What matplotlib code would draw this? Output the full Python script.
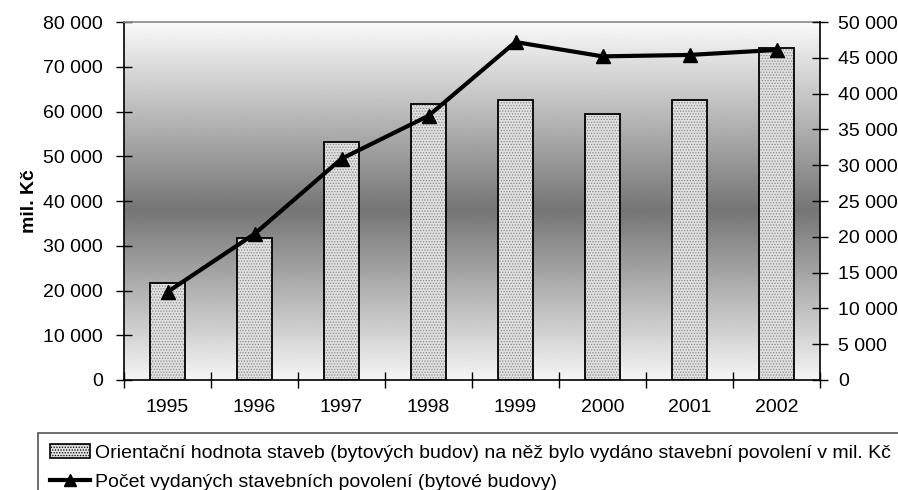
import numpy as np
import matplotlib
matplotlib.use('Agg')
import matplotlib.pyplot as plt
from matplotlib.patches import Rectangle
from matplotlib.lines import Line2D
from matplotlib.ticker import FuncFormatter, MultipleLocator

plt.rcParams['font.family'] = ['Liberation Sans', 'DejaVu Sans']
plt.rcParams['hatch.linewidth'] = 0.6

# Stavební povolení - bytové budovy
years = ['1995', '1996', '1997', '1998', '1999', '2000', '2001', '2002']
hodnota_mil_kc = [21600, 31700, 53200, 61700, 62600, 59500, 62600, 74300]
pocet_povoleni = [12300, 20400, 30900, 36900, 47200, 45200, 45400, 46100]

bar_label = ('Orientační hodnota staveb (bytových budov) na něž bylo vydáno '
             'stavební povolení v mil. Kč')
line_label = 'Počet vydaných stavebních povolení (bytové budovy)'

FS = 14
W, H = 898, 490


def thousands(v, pos):
    return f'{int(v):,}'.replace(',', ' ')


fig = plt.figure(figsize=(W / 100, H / 100), dpi=100)
ax = fig.add_axes([124 / W, 1 - 380 / H, (820 - 124) / W, (380 - 22) / H])

# grey vertical gradient behind the plot (light - dark - light)
stops_y = [0.0, 0.525, 1.0]
stops_v = [0.98, 0.46, 0.96]
yy = np.linspace(0, 1, 400)
grad = np.interp(yy, stops_y, stops_v)[:, None]
ax.imshow(grad, extent=[0, 1, 0, 1], transform=ax.transAxes, aspect='auto',
          cmap='gray', vmin=0, vmax=1, zorder=0, interpolation='bilinear')

x = np.arange(len(years))
bw = 0.4
ax.bar(x, hodnota_mil_kc, width=bw, color='#e0e0e0', edgecolor='#8a8a8a',
       linewidth=0, hatch='......', zorder=2)
ax.bar(x, hodnota_mil_kc, width=bw, fill=False, edgecolor='black',
       linewidth=1.3, zorder=3)

ax.set_xlim(-0.5, len(years) - 0.5)
ax.set_ylim(0, 80000)
ax.yaxis.set_major_locator(MultipleLocator(10000))
ax.yaxis.set_major_formatter(FuncFormatter(thousands))
ax.set_xticks(x)
ax.set_xticklabels(years)
ax.set_xticks(np.arange(-0.5, len(years)), minor=True)
ax.tick_params(axis='x', which='major', length=0, pad=14, labelsize=FS)
ax.tick_params(axis='x', which='minor', direction='inout', length=12,
               width=1)
ax.tick_params(axis='y', direction='inout', length=12, width=1, pad=9,
               labelsize=FS)
ax.set_ylabel('mil. Kč', fontsize=FS, fontweight='bold', labelpad=4)

for side in ['left', 'bottom']:
    ax.spines[side].set_linewidth(1.2)
    ax.spines[side].set_color('black')
ax.spines['top'].set_color('#8a8a8a')
ax.spines['top'].set_linewidth(1.2)
ax.spines['right'].set_visible(False)

ax2 = ax.twinx()
ax2.plot(x, pocet_povoleni, color='black', linewidth=3, marker='^',
         markersize=10, zorder=5)
ax2.set_ylim(0, 50000)
ax2.yaxis.set_major_locator(MultipleLocator(5000))
ax2.yaxis.set_major_formatter(FuncFormatter(thousands))
ax2.tick_params(axis='y', direction='inout', length=12, width=1, pad=7,
                labelsize=FS)
for side in ['left', 'top', 'bottom']:
    ax2.spines[side].set_visible(False)
ax2.spines['right'].set_linewidth(1.2)

# legend below the chart, frame runs off the right and bottom edge
fig.add_artist(Rectangle((38 / W, -0.2), 1.0, 0.2 + 1 - 433 / H,
                         transform=fig.transFigure, fill=False,
                         edgecolor='#555555', linewidth=1.2, clip_on=False))
bar_handle = Rectangle((0, 0), 1, 1, facecolor='#e0e0e0', edgecolor='black',
                       hatch='......', linewidth=1.2)
line_handle = Line2D([], [], color='black', linewidth=3, marker='^',
                     markersize=9)
fig.legend([bar_handle, line_handle], [bar_label, line_label],
           loc='upper left', bbox_to_anchor=(46 / W, 1 - 440 / H),
           frameon=False, fontsize=FS, handlelength=2.05,
           handletextpad=0.25, labelspacing=0.6, borderpad=0.2,
           borderaxespad=0)

fig.savefig('out.png', dpi=100)
